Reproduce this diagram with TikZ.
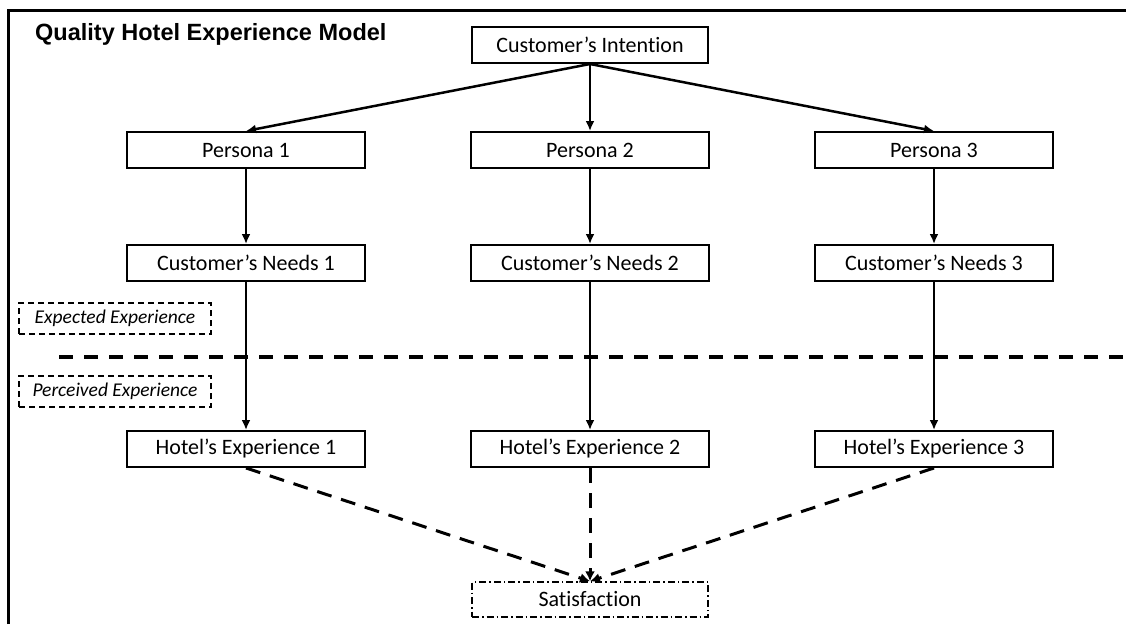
\documentclass[tikz,border=0pt]{standalone}
\usepackage{fontspec}
\setmainfont{Carlito}[Ligatures=NoCommon]
\newfontfamily\titlefont{Liberation Sans}
\usetikzlibrary{arrows.meta}
\begin{document}
\begin{tikzpicture}[x=1pt,y=-1pt,
  box/.style={draw,line width=2pt,minimum width=238pt,minimum height=36pt,inner sep=0pt,font=\fontsize{22}{24}\selectfont},
  labbox/.style={draw,line width=1.5pt,dash pattern=on 6pt off 4pt,minimum width=192pt,minimum height=31pt,inner sep=0pt,font=\fontsize{19.5}{22}\selectfont\itshape},
  arr/.style={line width=2.5pt,-{Latex[length=10pt,width=9pt]}},
  darr/.style={line width=3pt,dash pattern=on 15pt off 10pt,-{Latex[length=10pt,width=10pt]}}]
\useasboundingbox (0,0) rectangle (1126,624);
\fill[white] (0,0) rectangle (1126,624);
% frame
\draw[line width=3pt] (8,624) -- (8,10) -- (1126,10);
\node[anchor=base west,inner sep=0pt,font=\titlefont\bfseries\fontsize{23.5}{26}\selectfont] (title) at (35,40) {Quality Hotel Experience Model};
\node[box,minimum width=236pt] (ci) at (590,45) {Customer’s Intention};
\node[box] (p1) at (246,150) {Persona 1};
\node[box] (p2) at (590,150) {Persona 2};
\node[box] (p3) at (934,150) {Persona 3};
\node[box] (n1) at (246,263) {Customer’s Needs 1};
\node[box] (n2) at (590,263) {Customer’s Needs 2};
\node[box] (n3) at (934,263) {Customer’s Needs 3};
\node[box] (h1) at (246,449) {Hotel’s Experience 1};
\node[box] (h2) at (590,449) {Hotel’s Experience 2};
\node[box] (h3) at (934,449) {Hotel’s Experience 3};
\node[box,minimum width=236pt,minimum height=35pt,line width=1.5pt,dash pattern=on 7pt off 3pt on 1.5pt off 3pt] (sat) at (590,599.5) {Satisfaction};
\node[labbox] (exp) at (115,318.5) {Expected Experience};
\node[labbox] (per) at (115,391.5) {Perceived Experience};
\coordinate (dl) at (59,357);
\coordinate (dr) at (1126,357);
\draw[line width=3.5pt,dash pattern=on 14pt off 11pt] (dl) -- (dr);
\foreach \i in {1,2,3}{
  \draw[arr] (ci.south) -- (p\i.north);
  \draw[arr] (p\i) -- (n\i);
  \draw[arr] (n\i) -- (h\i);
  \draw[darr] (h\i.south) -- (sat.north);
}
\end{tikzpicture}
\end{document}
